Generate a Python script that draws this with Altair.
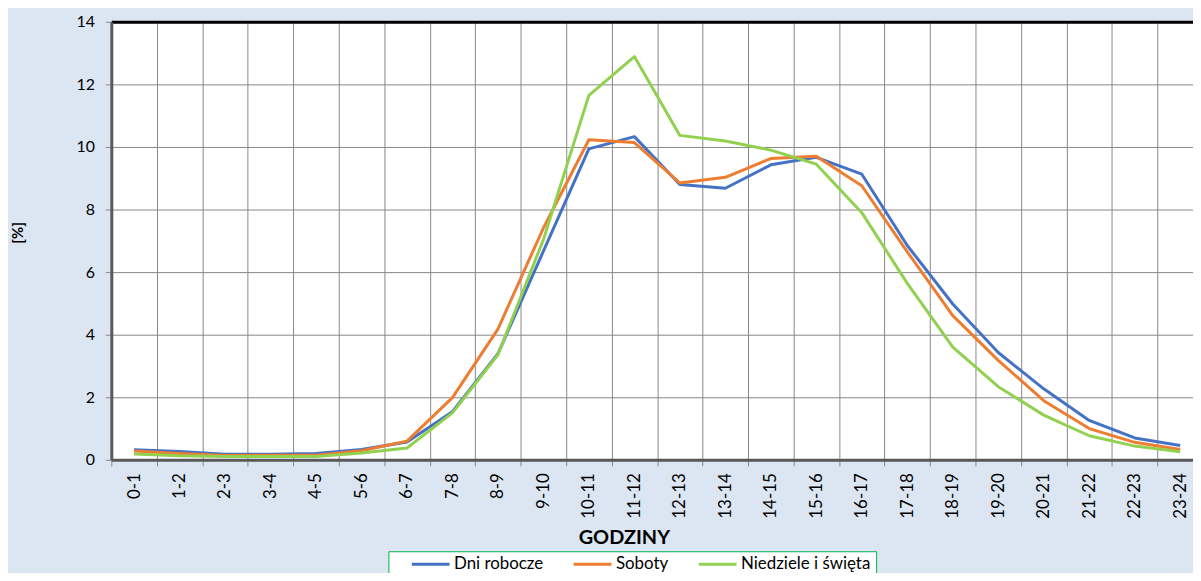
import altair as alt
import pandas as pd

hours = ["0-1", "1-2", "2-3", "3-4", "4-5", "5-6", "6-7", "7-8", "8-9", "9-10",
         "10-11", "11-12", "12-13", "13-14", "14-15", "15-16", "16-17", "17-18",
         "18-19", "19-20", "20-21", "21-22", "22-23", "23-24"]

dni_robocze = [0.32, 0.27, 0.18, 0.18, 0.20, 0.33, 0.57, 1.54, 3.39, 6.67, 9.94, 10.33,
               8.80, 8.68, 9.43, 9.67, 9.13, 6.85, 4.98, 3.43, 2.27, 1.26, 0.70, 0.46]
soboty = [0.28, 0.20, 0.14, 0.15, 0.15, 0.29, 0.60, 1.99, 4.18, 7.41, 10.23, 10.14,
          8.85, 9.03, 9.63, 9.70, 8.76, 6.65, 4.61, 3.18, 1.89, 1.00, 0.56, 0.33]
niedziele = [0.19, 0.13, 0.11, 0.11, 0.11, 0.22, 0.38, 1.50, 3.36, 7.04, 11.65, 12.89,
             10.37, 10.19, 9.90, 9.45, 7.90, 5.64, 3.60, 2.34, 1.43, 0.77, 0.44, 0.26]

series_names = ["Dni robocze", "Soboty", "Niedziele i święta"]
series_colors = ["#4472C4", "#ED7D31", "#92D050"]
y_ticks = [0, 2, 4, 6, 8, 10, 12, 14]

rows = []
for name, vals in zip(series_names, [dni_robocze, soboty, niedziele]):
    for i, (h, v) in enumerate(zip(hours, vals)):
        rows.append({"hour": h, "value": v, "series": name, "idx": i})
df = pd.DataFrame(rows)

FONT = "Lato"
GRID = "#868686"
AXIS = "#595959"

x_scale = alt.Scale(type="band", domain=hours, range=[0, 1099], paddingInner=0, paddingOuter=0)
y_scale = alt.Scale(domain=[0, 14], nice=False, zero=True)

lines = alt.Chart(df).mark_line(strokeWidth=3, strokeJoin="round").encode(
    x=alt.X("hour:N", scale=x_scale, bandPosition=0.5,
            axis=alt.Axis(
                title="GODZINY", titleFont=FONT, titleFontSize=20, titleFontWeight="bold",
                titleColor="black", titleX=516, titleY=78, titleAlign="center",
                titleBaseline="middle",
                labelAngle=270, labelAlign="right", labelBaseline="middle",
                labelFont=FONT, labelFontSize=17, labelColor="black", labelPadding=7,
                tickBand="extent", ticks=True, tickSize=6, tickColor=GRID, tickWidth=1,
                grid=True, gridColor=GRID, gridWidth=1,
                domain=True, domainColor=AXIS, domainWidth=3)),
    y=alt.Y("value:Q", scale=y_scale,
            axis=alt.Axis(
                title="[%]", values=y_ticks, titleFont=FONT, titleFontSize=15,
                titleFontWeight="bold", titleColor="black", titleX=-94.5, titleY=212,
                titleAngle=270, titleAlign="center", titleBaseline="middle",
                labelFont=FONT, labelFontSize=16, labelColor="black", labelPadding=11,
                ticks=True, tickSize=6, tickColor=GRID, tickWidth=1,
                grid=True, gridColor=GRID, gridWidth=1,
                domain=True, domainColor=AXIS, domainWidth=3)),
    color=alt.Color("series:N",
                    scale=alt.Scale(domain=series_names, range=series_colors),
                    legend=alt.Legend(
                        orient="none", legendX=279, legendY=533, direction="horizontal",
                        columns=3, title=None, symbolType="stroke", symbolSize=1444,
                        symbolStrokeWidth=3, clipHeight=16, symbolOffset=17,
                        labelOffset=3, labelFont=FONT, labelFontSize=17,
                        labelColor="black", columnPadding=12, padding=5,
                        strokeColor="#00B050", fillColor="white")),
    order=alt.Order("idx:Q"),
)

top_frame = alt.Chart(df).mark_point(opacity=0).encode(
    x=alt.X("hour:N", scale=x_scale,
            axis=alt.Axis(orient="top", labels=False, ticks=False, grid=False, title=None,
                          domain=True, domainColor="black", domainWidth=3)),
)

chart = alt.layer(lines, top_frame).resolve_axis(x="independent").properties(
    width=1089,
    height=441,
    background="#DCE6F2",
    padding={"left": 104, "top": 12, "right": 0, "bottom": 112},
    autosize=alt.AutoSizeParams(type="none"),
).configure_view(fill="white", stroke="transparent")

chart.save("out.html", embed_options={"renderer": "svg", "actions": False})
